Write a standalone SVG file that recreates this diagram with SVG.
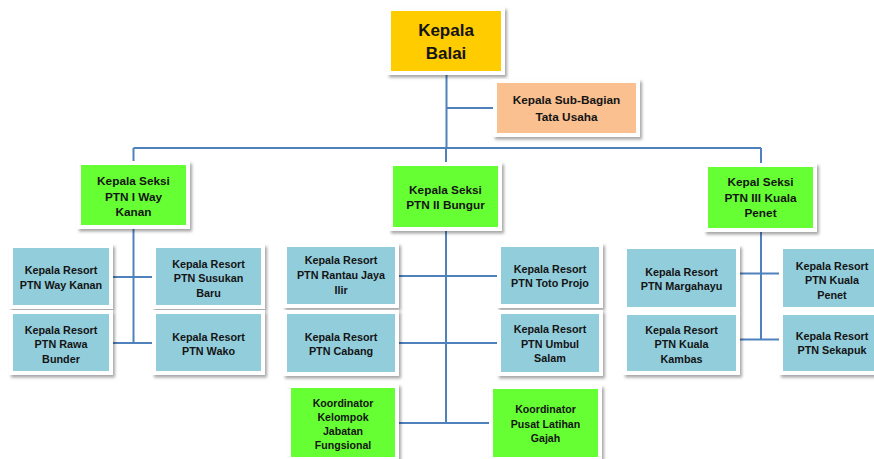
<svg xmlns="http://www.w3.org/2000/svg" width="874" height="459" viewBox="0 0 874 459">
<defs>
<filter id="sh" x="-20%" y="-20%" width="140%" height="140%">
<feDropShadow dx="2" dy="2.5" stdDeviation="1.6" flood-color="#000" flood-opacity="0.35"/>
</filter>
<style>
.fr{fill:#fff;filter:url(#sh)}
.yel{fill:#FFCC00}
.org{fill:#FAC090}
.grn{fill:#66FF33}
.blu{fill:#92CDDC}
text{font-family:"Liberation Sans",Arial,sans-serif;font-weight:bold;fill:#141414;text-anchor:middle}
.t17{font-size:17px}
.t12{font-size:11.8px}
.t11{font-size:10.8px}
.t10{font-size:10.6px}
.ln{stroke:#4F81BD;stroke-width:2;fill:none}
</style>
</defs>
<rect width="874" height="459" fill="#fff"/>
<g id="connectors">
<line class="ln" x1="446.5" y1="74" x2="446.5" y2="148"/>
<line class="ln" x1="446.5" y1="108" x2="494" y2="108"/>
<line class="ln" x1="133.5" y1="148" x2="761" y2="148"/>
<line class="ln" x1="133.5" y1="148" x2="133.5" y2="343"/>
<line class="ln" x1="111" y1="277" x2="154" y2="277"/>
<line class="ln" x1="111" y1="343" x2="154" y2="343"/>
<line class="ln" x1="446" y1="148" x2="446" y2="423"/>
<line class="ln" x1="397" y1="276" x2="499" y2="276"/>
<line class="ln" x1="397" y1="343" x2="499" y2="343"/>
<line class="ln" x1="397" y1="423" x2="491" y2="423"/>
<line class="ln" x1="761" y1="148" x2="761" y2="339.5"/>
<line class="ln" x1="738" y1="273.5" x2="781" y2="273.5"/>
<line class="ln" x1="738" y1="339.5" x2="781" y2="339.5"/>
</g>
<g id="kepala-balai">
<rect class="fr" x="387" y="7" width="118" height="68"/>
<rect class="yel" x="391" y="11" width="110" height="60"/>
<text class="t17" x="446" y="35.5">Kepala</text>
<text class="t17" x="446" y="58.5">Balai</text>
</g>
<g id="sub-bagian">
<rect class="fr" x="493" y="79" width="147" height="58"/>
<rect class="org" x="497" y="83" width="139" height="50"/>
<text class="t12" x="566.5" y="104">Kepala Sub-Bagian</text>
<text class="t12" x="566.5" y="120.5">Tata Usaha</text>
</g>
<g id="seksi-1">
<rect class="fr" x="77" y="161" width="113" height="68"/>
<rect class="grn" x="81" y="165" width="105" height="60"/>
<text class="t12" x="133.5" y="185">Kepala Seksi</text>
<text class="t12" x="133.5" y="200.5">PTN I Way</text>
<text class="t12" x="133.5" y="216">Kanan</text>
</g>
<g id="seksi-2">
<rect class="fr" x="389" y="162" width="113" height="69"/>
<rect class="grn" x="393" y="166" width="105" height="61"/>
<text class="t12" x="445.5" y="193.5">Kepala Seksi</text>
<text class="t12" x="445.5" y="209">PTN II Bungur</text>
</g>
<g id="seksi-3">
<rect class="fr" x="704" y="163" width="113" height="69"/>
<rect class="grn" x="708" y="167" width="105" height="61"/>
<text class="t12" x="760.5" y="186">Kepal Seksi</text>
<text class="t12" x="760.5" y="201.5">PTN III Kuala</text>
<text class="t12" x="760.5" y="217">Penet</text>
</g>
<g id="resort-way-kanan">
<rect class="fr" x="9" y="244" width="104" height="65"/>
<rect class="blu" x="13" y="248" width="96" height="57"/>
<text class="t11" x="61" y="274">Kepala Resort</text>
<text class="t11" x="61" y="289">PTN Way Kanan</text>
</g>
<g id="resort-susukan-baru">
<rect class="fr" x="152" y="244" width="113" height="65"/>
<rect class="blu" x="156" y="248" width="105" height="57"/>
<text class="t11" x="208.5" y="267.5">Kepala Resort</text>
<text class="t11" x="208.5" y="282">PTN Susukan</text>
<text class="t11" x="208.5" y="296.5">Baru</text>
</g>
<g id="resort-rawa-bunder">
<rect class="fr" x="9" y="310" width="104" height="65"/>
<rect class="blu" x="13" y="314" width="96" height="57"/>
<text class="t11" x="61" y="334">Kepala Resort</text>
<text class="t11" x="61" y="348">PTN Rawa</text>
<text class="t11" x="61" y="362.5">Bunder</text>
</g>
<g id="resort-wako">
<rect class="fr" x="152" y="310" width="113" height="65"/>
<rect class="blu" x="156" y="314" width="105" height="57"/>
<text class="t11" x="208.5" y="341">Kepala Resort</text>
<text class="t11" x="208.5" y="355">PTN Wako</text>
</g>
<g id="resort-rantau-jaya-ilir">
<rect class="fr" x="283" y="243" width="116" height="65"/>
<rect class="blu" x="287" y="247" width="108" height="57"/>
<text class="t11" x="341" y="264">Kepala Resort</text>
<text class="t11" x="341" y="279">PTN Rantau Jaya</text>
<text class="t11" x="341" y="293.5">Ilir</text>
</g>
<g id="resort-toto-projo">
<rect class="fr" x="497" y="243" width="106" height="65"/>
<rect class="blu" x="501" y="247" width="98" height="57"/>
<text class="t11" x="550" y="272.5">Kepala Resort</text>
<text class="t11" x="550" y="287">PTN Toto Projo</text>
</g>
<g id="resort-cabang">
<rect class="fr" x="283" y="310" width="116" height="66"/>
<rect class="blu" x="287" y="314" width="108" height="58"/>
<text class="t11" x="341" y="341">Kepala Resort</text>
<text class="t11" x="341" y="355">PTN Cabang</text>
</g>
<g id="resort-umbul-salam">
<rect class="fr" x="497" y="310" width="106" height="66"/>
<rect class="blu" x="501" y="314" width="98" height="58"/>
<text class="t11" x="550" y="333">Kepala Resort</text>
<text class="t11" x="550" y="347.5">PTN Umbul</text>
<text class="t11" x="550" y="362">Salam</text>
</g>
<g id="resort-margahayu">
<rect class="fr" x="623" y="245" width="117" height="66"/>
<rect class="blu" x="627" y="249" width="109" height="58"/>
<text class="t11" x="681.5" y="276">Kepala Resort</text>
<text class="t11" x="681.5" y="290">PTN Margahayu</text>
</g>
<g id="resort-kuala-penet">
<rect class="fr" x="779" y="245" width="106" height="66"/>
<rect class="blu" x="783" y="249" width="98" height="58"/>
<text class="t11" x="832" y="270">Kepala Resort</text>
<text class="t11" x="832" y="284">PTN Kuala</text>
<text class="t11" x="832" y="299">Penet</text>
</g>
<g id="resort-kuala-kambas">
<rect class="fr" x="623" y="311" width="117" height="64"/>
<rect class="blu" x="627" y="315" width="109" height="56"/>
<text class="t11" x="681.5" y="333.5">Kepala Resort</text>
<text class="t11" x="681.5" y="347.5">PTN Kuala</text>
<text class="t11" x="681.5" y="362.5">Kambas</text>
</g>
<g id="resort-sekapuk">
<rect class="fr" x="779" y="311" width="106" height="64"/>
<rect class="blu" x="783" y="315" width="98" height="56"/>
<text class="t11" x="832" y="340">Kepala Resort</text>
<text class="t11" x="832" y="354">PTN Sekapuk</text>
</g>
<g id="koordinator-jabatan-fungsional">
<rect class="fr" x="287" y="384" width="112" height="77"/>
<rect class="grn" x="291" y="388" width="104" height="69"/>
<text class="t10" x="343" y="406.5">Koordinator</text>
<text class="t10" x="343" y="420.5">Kelompok</text>
<text class="t10" x="343" y="435">Jabatan</text>
<text class="t10" x="343" y="449">Fungsional</text>
</g>
<g id="koordinator-pusat-latihan-gajah">
<rect class="fr" x="489" y="385" width="113" height="76"/>
<rect class="grn" x="493" y="389" width="105" height="68"/>
<text class="t10" x="545.5" y="413">Koordinator</text>
<text class="t10" x="545.5" y="427.5">Pusat Latihan</text>
<text class="t10" x="545.5" y="442">Gajah</text>
</g>
</svg>
